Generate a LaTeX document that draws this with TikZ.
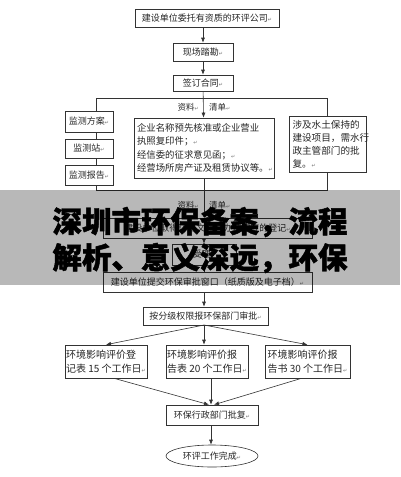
\documentclass[tikz,border=0pt]{standalone}
\usepackage{fontspec}
\setmainfont{Noto Sans CJK SC}
\newfontfamily\heavy[FakeBold=1.6, BoldFeatures={FakeBold=1.6}]{Noto Sans CJK SC}
\newfontfamily\dvfont{DejaVu Sans}
\usetikzlibrary{shapes.geometric,arrows.meta}
\newcommand{\pmark}{{\dvfont\fontsize{5}{5}\selectfont\color{black!55}↵}}
\begin{document}
\begin{tikzpicture}[x=1pt,y=-1pt,
  box/.style={draw=black!80, line width=0.6pt, fill=white, inner sep=1pt, font=\fontsize{9}{11}\selectfont, text=black!85},
  ln/.style={draw=black!80, line width=0.6pt},
  arr/.style={ln, -{Latex[length=5pt,width=4pt]}},
  lbl/.style={inner sep=0, font=\fontsize{8.5}{10}\selectfont, text=black!85},
  big/.style={inner sep=0, font=\heavy\bfseries\fontsize{29.5}{31}\selectfont, text=black}]
\useasboundingbox (0,0) rectangle (400,477);
\fill[white] (0,0) rectangle (400,477);

% top chain
\node[box, minimum width=144pt, minimum height=18pt] (b1) at (207,18) {建设单位委托有资质的环评公司\pmark};
\node[box, minimum width=60pt, minimum height=18pt] (b2) at (203,52) {现场踏勘\pmark};
\node[box, minimum width=60pt, minimum height=16pt] (b3) at (203,83) {签订合同\pmark};
\draw[arr] (b1.south -| b2) -- (b2);
\draw[arr] (b2) -- (b3);

% bracket
\coordinate (tl) at (96,98);
\coordinate (tr) at (327,98);
\coordinate (bl) at (96,190);
\coordinate (br) at (327,190);
\draw[ln] (tl) -- (tr) -- (br) -- (bl) -- cycle;

\node[box, minimum width=48pt, minimum height=21pt] (m1) at (89,121.5) {监测方案\pmark};
\node[box, minimum width=48pt, minimum height=19pt] (m2) at (89,148.5) {监测站\pmark};
\node[box, minimum width=48pt, minimum height=20pt] (m3) at (89,175) {监测报告\pmark};

\node[box, minimum width=140pt, minimum height=60pt, align=left, text width=134pt, font=\fontsize{9.4}{13.5}\selectfont] (c1) at (204,148)
 {企业名称预先核准或企业营业\\执照复印件；\pmark\\经信委的征求意见函；\pmark\\经营场所房产证及租赁协议等。\pmark};
\node[box, minimum width=77pt, minimum height=56pt, align=left, text width=70pt, font=\fontsize{9.6}{13}\selectfont] (r1) at (327.5,144)
 {涉及水土保持的\\建设项目，需水行\\政主管部门的批\\复。\pmark};

\draw[arr] (b3) -- (c1);
\node[lbl, anchor=east] (l1a) at (199,107) {资料\pmark};
\node[lbl, anchor=west] (l1b) at (209,107) {清单\pmark};

% lower chain (partly under band)
\node[box, minimum width=209pt, minimum height=20pt] (d1) at (207.5,228) {建设单位取得环评文件并办理相应的登记\pmark};
\node[box, minimum width=64pt, minimum height=21pt] (d2) at (204,254.5) {受理\pmark};
\node[box, minimum width=209pt, minimum height=20pt] (d3) at (207.5,282) {建设单位提交环保审批窗口（纸质版及电子档）\pmark};
\draw[arr] (c1.south) -- (c1.south |- d1.north);
\node[lbl, anchor=east] (l2a) at (199,205) {资料\pmark};
\node[lbl, anchor=west] (l2b) at (209,205) {清单\pmark};
\draw[arr] (d1.south -| d2) -- (d2);
\draw[ln] (d2) -- (d2 |- d3.north);

\node[box, minimum width=125pt, minimum height=18pt] (e1) at (205.5,316) {按分级权限报环保部门审批\pmark};
\draw[arr] (d3.south -| 204,0) -- (e1.north -| 204,0);

\node[box, minimum width=82pt, minimum height=33pt, align=left, font=\fontsize{10}{14}\selectfont] (f1) at (106,361.5) {环境影响评价登\\记表 15 个工作日\pmark};
\node[box, minimum width=82pt, minimum height=33pt, align=left, font=\fontsize{10}{14}\selectfont] (f2) at (207,361.5) {环境影响评价报\\告表 20 个工作日\pmark};
\node[box, minimum width=85pt, minimum height=33pt, align=left, font=\fontsize{10}{14}\selectfont] (f3) at (307.5,361.5) {环境影响评价报\\告书 30 个工作日\pmark};
\coordinate (e1s) at (204,325);
\draw[arr] (e1s) -- (f1.north);
\draw[arr] (e1s) -- (f2.north -| e1s);
\draw[arr] (e1s) -- (f3.north);

\node[box, minimum width=92pt, minimum height=20pt] (g1) at (212,415) {环保行政部门批复\pmark};
\draw[arr] (f1.south) ++(8,0) -- ([xshift=-3pt]g1.north);
\draw[arr] (f2.south -| 211,0) -- (g1.north -| 211,0);
\draw[arr] (f3.south) ++(-6,0) -- ([xshift=2pt]g1.north);

\node[box, ellipse, minimum width=92pt, minimum height=22pt] (h1) at (212,456) {环评工作完成\pmark};
\draw[arr] (g1.south -| 211,0) -- (h1.north -| 211,0);

% overlay band
\fill[black, opacity=0.28] (0,190) rectangle (400,285);
\node[big] (t1) at (200,222) {深圳市环保备案，流程};
\node[big] (t2) at (200,258) {解析、意义深远，环保};
\end{tikzpicture}
\end{document}
